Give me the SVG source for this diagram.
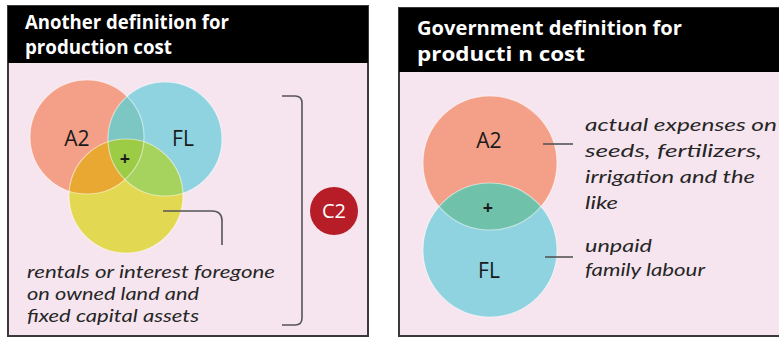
<svg xmlns="http://www.w3.org/2000/svg" width="779" height="338" viewBox="0 0 779 338">
<style>
.panel{fill:#f6e5ef;stroke:#3a3a3a;stroke-width:2}
.hdr{fill:#000}
.ht{font-family:"Open Sans","Noto Sans",sans-serif;font-weight:bold;font-size:19px;fill:#fff}
.lbl{font-family:"Open Sans","Noto Sans",sans-serif;font-size:21px;fill:#1a1a1a}
.plus{font-family:"Open Sans","Noto Sans",sans-serif;font-weight:bold;font-size:18px;fill:#1a1a1a}
.it{font-family:Lato,"Liberation Sans",sans-serif;font-style:italic;font-size:18px;fill:#262626}
.line{fill:none;stroke:#555;stroke-width:1.6}
.edge{fill:none;stroke:#fff;stroke-opacity:0.5;stroke-width:1.2}
</style>
<defs>
<clipPath id="cA"><circle cx="87" cy="137" r="57"/></clipPath>
<clipPath id="cF"><circle cx="165" cy="139" r="57"/></clipPath>
<clipPath id="cA2"><circle cx="490" cy="163" r="67"/></clipPath>
</defs>
<rect width="779" height="338" fill="#fff"/>
<g id="left-panel">
<rect class="panel" x="8" y="6" width="360" height="330"/>
<rect class="hdr" x="8" y="6" width="360" height="57"/>
<text class="ht" x="25" y="29" textLength="204" lengthAdjust="spacingAndGlyphs">Another definition for</text>
<text class="ht" x="25" y="54" textLength="147" lengthAdjust="spacingAndGlyphs">production cost</text>
</g>
<g id="right-panel">
<rect class="panel" x="399" y="8" width="390" height="328"/>
<rect class="hdr" x="399" y="8" width="390" height="64"/>
<text class="ht" x="417" y="35" textLength="265" lengthAdjust="spacingAndGlyphs">Government definition for</text>
<text class="ht" x="417" y="61" textLength="168" lengthAdjust="spacingAndGlyphs">producti n cost</text>
</g>
<g id="venn-left">
<g id="A2-left"><circle cx="87" cy="137" r="57" fill="#f4a088"/></g>
<g id="FL-left"><circle cx="165" cy="139" r="57" fill="#8fd3e0"/></g>
<g id="land-left"><circle cx="126" cy="196" r="57" fill="#e3d852"/></g>
<g clip-path="url(#cA)"><circle cx="165" cy="139" r="57" fill="#7cc6c4"/><circle cx="126" cy="196" r="57" fill="#e8a832"/></g>
<g clip-path="url(#cF)"><circle cx="126" cy="196" r="57" fill="#a6d25e"/></g>
<g clip-path="url(#cA)"><g clip-path="url(#cF)"><circle cx="126" cy="196" r="57" fill="#9ccb45"/></g></g>
<circle class="edge" cx="87" cy="137" r="57"/>
<circle class="edge" cx="165" cy="139" r="57"/>
<circle class="edge" cx="126" cy="196" r="57"/>
<text class="lbl" x="77" y="146" text-anchor="middle">A2</text>
<text class="lbl" x="183" y="146" text-anchor="middle">FL</text>
<text class="plus" x="125" y="165" text-anchor="middle">+</text>
</g>
<g id="C2">
<circle cx="334" cy="211" r="24" fill="#b71d26"/>
<text x="334" y="218" text-anchor="middle" font-family="Open Sans, Noto Sans, sans-serif" font-size="20" fill="#fff">C2</text>
</g>
<g id="venn-right">
<g id="A2-right"><circle cx="490" cy="163" r="67" fill="#f4a088"/></g>
<g id="FL-right"><circle cx="490" cy="250" r="67" fill="#8fd3e0"/></g>
<g clip-path="url(#cA2)"><circle cx="490" cy="250" r="67" fill="#70c1aa"/></g>
<circle class="edge" cx="490" cy="163" r="67"/>
<circle class="edge" cx="490" cy="250" r="67"/>
<text class="lbl" x="489" y="148" text-anchor="middle">A2</text>
<text class="lbl" x="489" y="278" text-anchor="middle">FL</text>
<text class="plus" x="488" y="214" text-anchor="middle">+</text>
</g>
<g id="connectors">
<path class="line" d="M163 211 H212 Q222 211 222 221 V245"/>
<path class="line" d="M282 96 H295 Q302 96 302 103 V318 Q302 325 295 325 H282"/>
<path class="line" d="M543 144 H573"/>
<path class="line" d="M545 257 H573"/>
</g>
<g id="notes">
<text class="it" x="27" y="278" textLength="248" lengthAdjust="spacingAndGlyphs">rentals or interest foregone</text>
<text class="it" x="27" y="300" textLength="172" lengthAdjust="spacingAndGlyphs">on owned land and</text>
<text class="it" x="27" y="322" textLength="172" lengthAdjust="spacingAndGlyphs">fixed capital assets</text>
<text class="it" x="585" y="131" textLength="192" lengthAdjust="spacingAndGlyphs">actual expenses on</text>
<text class="it" x="585" y="157" textLength="177" lengthAdjust="spacingAndGlyphs">seeds, fertilizers,</text>
<text class="it" x="585" y="183" textLength="170" lengthAdjust="spacingAndGlyphs">irrigation and the</text>
<text class="it" x="585" y="209" textLength="33" lengthAdjust="spacingAndGlyphs">like</text>
<text class="it" x="585" y="252" textLength="67" lengthAdjust="spacingAndGlyphs">unpaid</text>
<text class="it" x="585" y="276" textLength="120" lengthAdjust="spacingAndGlyphs">family labour</text>
</g>
</svg>
